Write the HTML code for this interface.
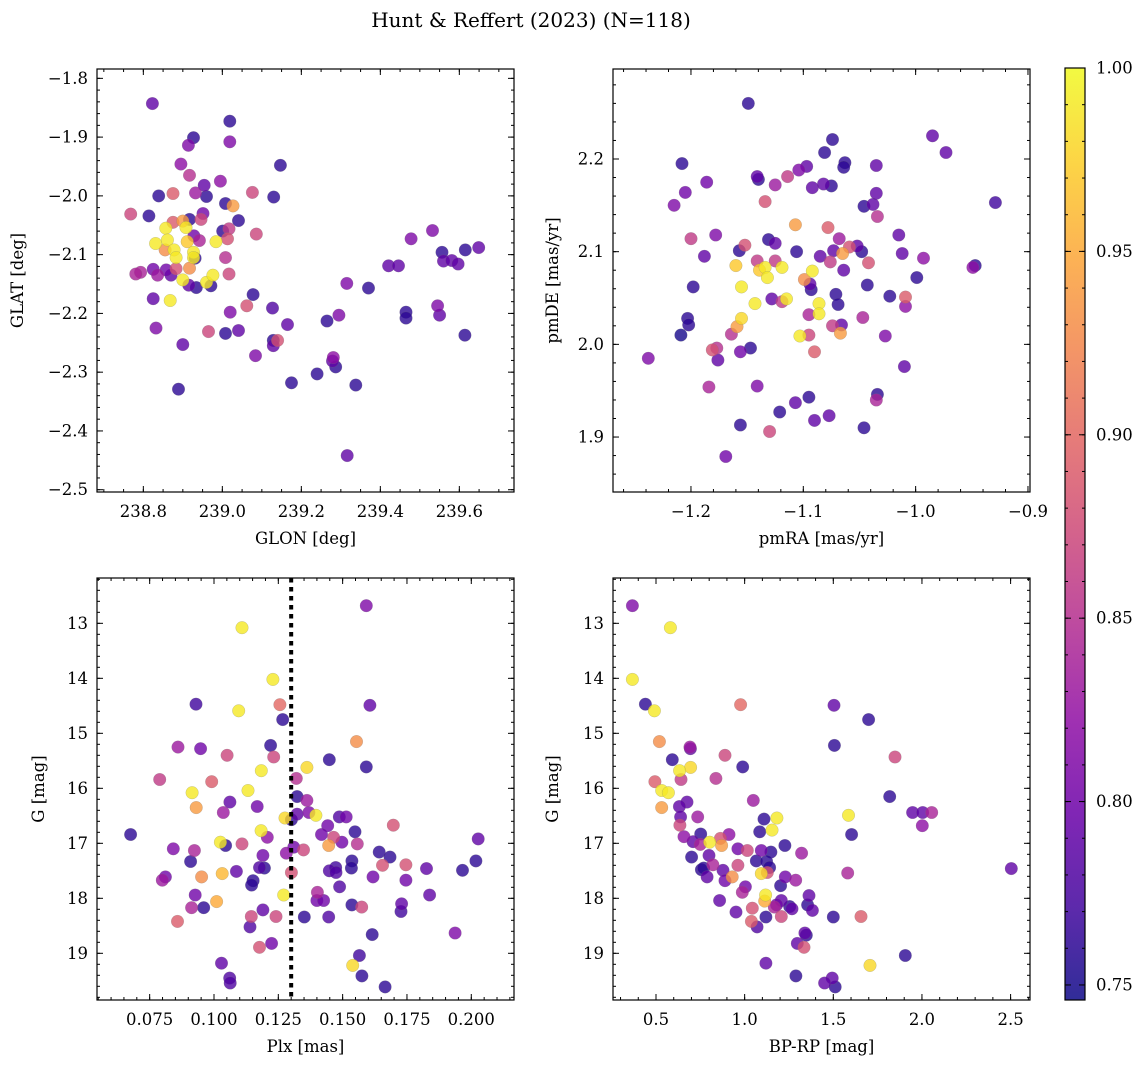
<!DOCTYPE html>
<html><head><meta charset="utf-8">
<style>
html,body{margin:0;padding:0;background:#fff;}
svg{display:block;font-family:"DejaVu Serif","Liberation Serif",serif;}
</style></head>
<body>
<svg id="fig" width="1148" height="1068" viewBox="0 0 1148 1068" xmlns="http://www.w3.org/2000/svg">
<text x="531" y="27" font-size="20" text-anchor="middle">Hunt &amp; Reffert (2023) (N=118)</text>
<defs>
<linearGradient id="plasmaGrad" x1="0" y1="1" x2="0" y2="0">
<stop offset="0" stop-color="#0d0887"/><stop offset="0.1" stop-color="#41049d"/><stop offset="0.2" stop-color="#6a00a8"/><stop offset="0.3" stop-color="#8f0da4"/><stop offset="0.4" stop-color="#b12a90"/><stop offset="0.5" stop-color="#cc4778"/><stop offset="0.6" stop-color="#e16462"/><stop offset="0.7" stop-color="#f2844b"/><stop offset="0.8" stop-color="#fca636"/><stop offset="0.9" stop-color="#fcce25"/><stop offset="1" stop-color="#f0f921"/>
</linearGradient>
</defs>
</svg>
<script>
// ---- Data: top-left (GLON vs GLAT) ----
const tlGlon=[238.823,239.019,238.927,238.914,239.019,238.895,238.917,239.147,238.954,238.995,238.839,238.875,238.932,238.960,239.076,239.130,239.008,239.027,238.768,238.814,238.951,238.946,238.917,238.875,238.900,239.041,238.857,238.908,239.001,239.017,239.013,239.086,238.831,238.861,238.928,238.942,238.911,238.984,238.855,238.878,238.927,238.883,238.927,238.931,239.008,238.825,238.793,238.781,238.836,238.858,238.870,238.883,238.917,239.017,238.900,238.915,238.934,238.960,238.976,238.971,238.825,238.868,239.078,239.062,239.127,239.020,238.832,238.965,239.008,239.041,239.165,238.900,239.129,239.129,239.140,239.084,238.889,239.175,239.240,239.281,239.279,239.287,239.338,239.265,239.295,239.315,239.370,239.316,239.421,239.446,239.478,239.465,239.465,239.532,239.556,239.560,239.581,239.597,239.615,239.649,239.545,239.550,239.614];
const tlGlat=[-1.843,-1.873,-1.901,-1.914,-1.908,-1.946,-1.965,-1.948,-1.982,-1.975,-2.000,-1.996,-1.995,-2.001,-1.994,-2.002,-2.013,-2.017,-2.031,-2.034,-2.030,-2.040,-2.040,-2.045,-2.043,-2.042,-2.055,-2.054,-2.060,-2.056,-2.073,-2.065,-2.081,-2.075,-2.068,-2.076,-2.078,-2.078,-2.092,-2.092,-2.096,-2.105,-2.105,-2.106,-2.105,-2.125,-2.130,-2.133,-2.135,-2.126,-2.135,-2.124,-2.123,-2.133,-2.143,-2.152,-2.156,-2.147,-2.135,-2.153,-2.175,-2.178,-2.168,-2.187,-2.191,-2.198,-2.225,-2.231,-2.234,-2.229,-2.219,-2.253,-2.246,-2.255,-2.246,-2.272,-2.329,-2.318,-2.303,-2.275,-2.281,-2.291,-2.322,-2.213,-2.203,-2.149,-2.157,-2.442,-2.119,-2.119,-2.073,-2.198,-2.208,-2.059,-2.096,-2.111,-2.110,-2.116,-2.092,-2.088,-2.187,-2.203,-2.237];
const tlProb=[.79,.76,.76,.81,.81,.82,.85,.76,.79,.82,.76,.89,.83,.76,.87,.76,.76,.94,.87,.76,.80,.87,.76,.89,.94,.76,.99,.99,.76,.86,.88,.87,.99,.99,.80,.84,.97,.99,.93,.99,.99,.99,.99,.76,.85,.80,.84,.84,.83,.80,.79,.88,.93,.87,.99,.79,.76,.99,.99,.76,.79,.99,.76,.88,.78,.81,.81,.87,.76,.79,.79,.79,.76,.79,.88,.81,.76,.76,.76,.82,.79,.76,.76,.76,.81,.81,.76,.79,.79,.79,.81,.76,.76,.81,.76,.79,.79,.79,.76,.79,.81,.79,.76];
const tlXTicks=[238.8,239.0,239.2,239.4,239.6];
const tlXLabels=["238.8","239.0","239.2","239.4","239.6"];
const tlYTicks=[-1.8,-1.9,-2.0,-2.1,-2.2,-2.3,-2.4,-2.5];
const tlYLabels=["−1.8","−1.9","−2.0","−2.1","−2.2","−2.3","−2.4","−2.5"];

// ---- Data: top-right (pmRA vs pmDE) ----
const trPmra=[-1.149,-0.985,-0.973,-0.929,-1.208,-1.205,-1.215,-1.186,-1.074,-1.081,-1.063,-1.064,-1.141,-1.140,-1.125,-1.114,-1.104,-1.097,-1.092,-1.082,-1.075,-1.035,-1.035,-1.038,-1.046,-1.034,-1.134,-1.107,-1.078,-1.200,-1.178,-1.188,-1.198,-1.203,-1.202,-1.209,-1.157,-1.152,-1.131,-1.125,-1.141,-1.125,-1.106,-1.085,-1.076,-1.073,-1.068,-1.059,-1.052,-1.048,-1.065,-1.042,-1.064,-1.015,-1.012,-0.993,-0.999,-0.947,-0.949,-1.160,-1.155,-1.139,-1.134,-1.132,-1.119,-1.092,-1.099,-1.094,-1.093,-1.128,-1.119,-1.115,-1.143,-1.155,-1.159,-1.164,-1.086,-1.086,-1.095,-1.071,-1.069,-1.043,-1.023,-1.009,-1.009,-1.047,-1.074,-1.066,-1.067,-1.095,-1.103,-1.027,-1.090,-1.181,-1.177,-1.156,-1.147,-1.176,-1.238,-1.010,-1.184,-1.141,-1.107,-1.095,-1.121,-1.090,-1.077,-1.034,-1.035,-1.046,-1.156,-1.130,-1.169];
const trPmde=[2.260,2.225,2.207,2.153,2.195,2.164,2.150,2.175,2.221,2.207,2.196,2.191,2.181,2.178,2.172,2.181,2.188,2.192,2.169,2.173,2.171,2.193,2.163,2.151,2.149,2.138,2.154,2.129,2.126,2.114,2.118,2.095,2.062,2.028,2.021,2.010,2.101,2.107,2.113,2.109,2.090,2.090,2.100,2.095,2.089,2.101,2.114,2.105,2.106,2.100,2.098,2.088,2.080,2.118,2.098,2.093,2.072,2.085,2.083,2.085,2.062,2.080,2.083,2.072,2.083,2.079,2.070,2.065,2.059,2.049,2.046,2.049,2.044,2.028,2.019,2.011,2.044,2.033,2.032,2.054,2.043,2.064,2.052,2.051,2.041,2.029,2.020,2.021,2.012,2.010,2.009,2.009,1.992,1.994,1.996,1.992,1.996,1.983,1.985,1.976,1.954,1.955,1.937,1.943,1.927,1.918,1.923,1.946,1.940,1.910,1.913,1.906,1.879];
const trProb=[.76,.79,.79,.77,.76,.80,.81,.80,.76,.76,.76,.76,.79,.76,.83,.86,.81,.79,.79,.79,.76,.79,.79,.79,.76,.85,.88,.94,.89,.86,.81,.79,.76,.76,.76,.75,.76,.88,.76,.79,.86,.86,.76,.79,.86,.79,.83,.88,.79,.76,.94,.88,.79,.79,.79,.82,.76,.76,.82,.97,.99,.97,.99,.99,.99,.99,.93,.79,.76,.79,.86,.99,.99,.98,.94,.85,.99,.99,.84,.76,.76,.76,.76,.89,.82,.84,.86,.79,.94,.87,.99,.81,.89,.88,.85,.80,.76,.79,.81,.79,.84,.81,.79,.76,.76,.79,.79,.76,.84,.76,.76,.87,.80];
const trXTicks=[-1.2,-1.1,-1.0,-0.9];
const trXLabels=["−1.2","−1.1","−1.0","−0.9"];
const trYTicks=[2.2,2.1,2.0,1.9];
const trYLabels=["2.2","2.1","2.0","1.9"];

// ---- Data: bottom-left (Plx vs G) ----
const blPlx=[0.1592,0.1109,0.1229,0.0930,0.1096,0.1256,0.1267,0.1606,0.1554,0.0860,0.0948,0.1220,0.1051,0.1232,0.1448,0.1592,0.1361,0.1184,0.0789,0.0991,0.1320,0.0915,0.1132,0.1323,0.1361,0.1062,0.0931,0.1168,0.1036,0.1323,0.1369,0.1396,0.1276,0.1301,0.1487,0.1514,0.1442,0.1697,0.0676,0.1183,0.1207,0.1418,0.1465,0.1548,0.1497,0.1557,0.1446,0.2027,0.0842,0.0924,0.1025,0.1045,0.1109,0.1190,0.1281,0.1310,0.1348,0.1642,0.1684,0.2018,0.0909,0.1536,0.1473,0.1534,0.1448,0.1474,0.1177,0.1196,0.1087,0.1655,0.1746,0.1826,0.1966,0.0811,0.0799,0.0952,0.1032,0.1301,0.1618,0.1746,0.1152,0.1146,0.1488,0.0927,0.1271,0.1402,0.1400,0.1426,0.1838,0.1010,0.0913,0.0960,0.1190,0.1536,0.1574,0.1729,0.1727,0.1351,0.1446,0.1145,0.1241,0.0858,0.1140,0.1615,0.1937,0.1177,0.1224,0.1565,0.1539,0.1029,0.1061,0.1063,0.1575,0.1665];
const blG=[12.68,13.08,14.02,14.47,14.59,14.48,14.75,14.49,15.15,15.25,15.28,15.22,15.40,15.43,15.48,15.61,15.62,15.68,15.84,15.88,15.82,16.08,16.04,16.15,16.22,16.25,16.35,16.33,16.44,16.47,16.44,16.49,16.54,16.57,16.52,16.52,16.68,16.67,16.84,16.77,16.89,16.84,16.89,16.79,16.98,17.01,17.04,16.92,17.10,17.13,16.98,17.04,17.01,17.22,17.18,17.07,17.12,17.16,17.25,17.32,17.33,17.32,17.44,17.45,17.50,17.53,17.44,17.45,17.51,17.40,17.39,17.46,17.49,17.61,17.67,17.61,17.55,17.53,17.61,17.67,17.68,17.76,17.79,17.94,17.94,17.89,18.04,18.04,17.94,18.06,18.17,18.17,18.21,18.12,18.16,18.10,18.24,18.34,18.34,18.33,18.33,18.42,18.52,18.66,18.63,18.89,18.82,19.04,19.22,19.18,19.45,19.54,19.41,19.61];
const blProb=[.81,.99,.99,.77,.99,.90,.76,.79,.93,.83,.80,.76,.87,.87,.76,.76,.98,.99,.86,.89,.85,.99,.99,.76,.83,.79,.94,.80,.83,.79,.81,.99,.98,.76,.78,.80,.80,.88,.76,.99,.82,.80,.87,.76,.80,.85,.94,.79,.81,.84,.99,.76,.87,.80,.82,.80,.87,.76,.76,.76,.76,.76,.77,.76,.78,.78,.78,.76,.79,.88,.88,.79,.76,.80,.83,.93,.96,.88,.80,.80,.76,.76,.78,.80,.99,.84,.80,.80,.79,.95,.84,.76,.79,.76,.87,.79,.77,.76,.78,.87,.87,.89,.78,.76,.81,.88,.80,.77,.98,.79,.78,.78,.76,.76];
const blXTicks=[0.075,0.100,0.125,0.150,0.175,0.200];
const blXLabels=["0.075","0.100","0.125","0.150","0.175","0.200"];
const gTicks=[13,14,15,16,17,18,19];
const gLabels=["13","14","15","16","17","18","19"];
const plxCut=[0.13];

// ---- Data: bottom-right (BP-RP vs G) ----
const brBpRp=[0.367,0.581,0.367,0.440,0.491,0.977,1.504,1.699,0.519,0.692,0.694,1.506,0.889,1.848,0.592,0.989,0.695,0.633,0.641,0.494,0.838,0.532,0.570,1.818,1.049,0.675,0.532,0.632,0.735,0.639,1.947,2.004,2.055,1.586,1.182,1.109,2.002,0.635,1.154,1.085,1.603,0.752,0.912,0.658,0.863,0.709,0.803,0.870,1.227,0.750,0.962,1.015,1.094,1.148,1.321,0.701,0.799,1.066,1.124,1.141,0.962,0.821,0.756,0.769,0.878,1.094,1.128,1.581,2.504,0.788,0.930,0.889,1.229,1.288,1.004,0.987,1.203,1.118,1.113,1.363,0.859,1.207,1.180,1.254,1.267,1.355,1.382,1.167,1.043,0.951,1.120,1.207,1.500,1.656,1.038,1.070,1.340,1.348,1.297,1.335,1.906,1.707,1.120,1.289,1.494,1.451,1.511];
const brG=[12.68,13.08,14.02,14.47,14.59,14.48,14.49,14.75,15.15,15.25,15.28,15.22,15.40,15.43,15.48,15.61,15.62,15.68,15.84,15.88,15.82,16.04,16.08,16.15,16.22,16.25,16.35,16.33,16.52,16.52,16.44,16.44,16.44,16.49,16.54,16.56,16.68,16.67,16.76,16.79,16.84,16.83,16.84,16.88,16.91,16.97,16.98,17.04,17.04,17.02,17.10,17.13,17.13,17.16,17.18,17.25,17.22,17.32,17.33,17.44,17.40,17.39,17.48,17.45,17.49,17.55,17.53,17.54,17.46,17.61,17.61,17.68,17.61,17.67,17.79,17.89,17.77,17.94,18.05,17.95,18.04,18.04,18.12,18.15,18.19,18.12,18.22,18.16,18.18,18.25,18.34,18.33,18.34,18.33,18.42,18.52,18.63,18.67,18.82,18.89,19.04,19.22,19.18,19.41,19.45,19.54,19.61];
const brProb=[.81,.99,.99,.76,.99,.90,.79,.76,.93,.83,.79,.76,.87,.87,.76,.76,.98,.99,.86,.89,.85,.99,.99,.76,.83,.79,.94,.79,.83,.79,.79,.79,.84,.99,.99,.76,.82,.87,.99,.76,.76,.76,.82,.82,.88,.79,.99,.94,.76,.84,.80,.87,.80,.76,.83,.76,.79,.76,.76,.76,.87,.84,.76,.76,.79,.98,.88,.84,.79,.79,.93,.80,.80,.83,.80,.84,.76,.99,.95,.79,.79,.79,.80,.76,.79,.76,.79,.84,.88,.79,.76,.87,.76,.89,.89,.78,.79,.76,.79,.88,.76,.98,.79,.76,.79,.79,.76];
const brXTicks=[0.5,1.0,1.5,2.0,2.5];
const brXLabels=["0.5","1.0","1.5","2.0","2.5"];

// ---- Colorbar ----
const cbTicks=[1.00,0.95,0.90,0.85,0.80,0.75];
const cbLabels=["1.00","0.95","0.90","0.85","0.80","0.75"];
const cbRange=[0.7459,1.0];

const NS="http://www.w3.org/2000/svg";
const svg=document.getElementById('fig');
const FS=16.5;
function mk(tag,attrs,parent){const e=document.createElementNS(NS,tag);for(const k in attrs)e.setAttribute(k,attrs[k]);(parent||svg).appendChild(e);return e;}

const plasma=["#0d0887","#41049d","#6a00a8","#8f0da4","#b12a90","#cc4778","#e16462","#f2844b","#fca636","#fcce25","#f0f921"];
function hex(h){return [parseInt(h.substr(1,2),16),parseInt(h.substr(3,2),16),parseInt(h.substr(5,2),16)];}
function cmap(v){let t=(v-cbRange[0])/(cbRange[1]-cbRange[0]);t=Math.max(0,Math.min(1,t));const s=t*10;const i=Math.min(9,Math.floor(s));const f=s-i;const a=hex(plasma[i]),b=hex(plasma[i+1]);return "rgb("+a.map((c,k)=>Math.round(c+(b[k]-c)*f)).join(",")+")";}

function scale(d0,d1,r0,r1){return v=>r0+(v-d0)/(d1-d0)*(r1-r0);}

function panel(cfg){
  const g=mk('g',{});
  
  
  const sx=scale(cfg.xd[0],cfg.xd[1],cfg.x0,cfg.x1), sy=scale(cfg.yd[0],cfg.yd[1],cfg.y0,cfg.y1);
  const idx=cfg.xs.map((_,i)=>i).sort((a,b)=>cfg.cs[a]-cfg.cs[b]);
  const pg=mk('g',{},g);
  
  
  idx.forEach(i=>{
    const c=mk('circle',{cx:sx(cfg.xs[i]).toFixed(1),cy:sy(cfg.ys[i]).toFixed(1),r:6.3,fill:cmap(cfg.cs[i]),'fill-opacity':0.8,stroke:'#777','stroke-width':0.4,'stroke-opacity':0.5},pg);
    
    
  });
  if(cfg.vline){cfg.vline.forEach(v=>{const l=mk('line',{x1:sx(v),x2:sx(v),y1:cfg.y0,y2:cfg.y1,stroke:'#000','stroke-width':4,'stroke-dasharray':'4.5,4.5'},g);
    
    });}
  const fr=mk('rect',{x:cfg.x0,y:cfg.y0,width:cfg.x1-cfg.x0,height:cfg.y1-cfg.y0,fill:'none',stroke:'#000','stroke-width':1.2},g);
  
  
  const tk=mk('g',{stroke:'#000','stroke-width':1},g);
  let m=Math.ceil(Math.min(cfg.xd[0],cfg.xd[1])/cfg.xminor);
  for(;m*cfg.xminor<=Math.max(cfg.xd[0],cfg.xd[1]);m++){const x=sx(m*cfg.xminor);mk('line',{x1:x,x2:x,y1:cfg.y1,y2:cfg.y1-3},tk);mk('line',{x1:x,x2:x,y1:cfg.y0,y2:cfg.y0+3},tk);}
  m=Math.ceil(Math.min(cfg.yd[0],cfg.yd[1])/cfg.yminor);
  for(;m*cfg.yminor<=Math.max(cfg.yd[0],cfg.yd[1]);m++){const y=sy(m*cfg.yminor);mk('line',{x1:cfg.x0,x2:cfg.x0+3,y1:y,y2:y},tk);mk('line',{x1:cfg.x1,x2:cfg.x1-3,y1:y,y2:y},tk);}
  cfg.xt.forEach((v,i)=>{const x=sx(v);mk('line',{x1:x,x2:x,y1:cfg.y1,y2:cfg.y1-6},tk);mk('line',{x1:x,x2:x,y1:cfg.y0,y2:cfg.y0+6},tk);
    const t=mk('text',{x:x,y:cfg.y1+25,'font-size':FS,'text-anchor':'middle'},g);t.textContent=cfg.xl[i];
    
    });
  cfg.yt.forEach((v,i)=>{const y=sy(v);mk('line',{x1:cfg.x0,x2:cfg.x0+6,y1:y,y2:y},tk);mk('line',{x1:cfg.x1,x2:cfg.x1-6,y1:y,y2:y},tk);
    const t=mk('text',{x:cfg.x0-9,y:y+5.5,'font-size':FS,'text-anchor':'end'},g);t.textContent=cfg.yl[i];
    
    });
  const xt=mk('text',{x:(cfg.x0+cfg.x1)/2,y:cfg.y1+52,'font-size':FS,'text-anchor':'middle'},g);xt.textContent=cfg.xlabel;
  
  
  const yx=cfg.ylabx, yy=(cfg.y0+cfg.y1)/2;
  const yt=mk('text',{x:yx,y:yy,'font-size':FS,'text-anchor':'middle',transform:'rotate(-90 '+yx+' '+yy+')'},g);yt.textContent=cfg.ylabel;
  
  
}

panel({name:'glon-glat-panel',x0:97,x1:514,y0:69,y1:492,xd:[238.6827,239.7384],yd:[-1.7841,-2.5039],xs:tlGlon,ys:tlGlat,cs:tlProb,xt:tlXTicks,xl:tlXLabels,yt:tlYTicks,yl:tlYLabels,xminor:0.05,yminor:0.02,xlabel:'GLON [deg]',ylabel:'GLAT [deg]',ylabx:23});
panel({name:'proper-motion-panel',x0:613,x1:1030,y0:69,y1:492,xd:[-1.2694,-0.8982],yd:[2.2971,1.8407],xs:trPmra,ys:trPmde,cs:trProb,xt:trXTicks,xl:trXLabels,yt:trYTicks,yl:trYLabels,xminor:0.02,yminor:0.02,xlabel:'pmRA [mas/yr]',ylabel:'pmDE [mas/yr]',ylabx:558});
panel({name:'parallax-mag-panel',x0:97,x1:514,y0:578,y1:1000,xd:[0.05453,0.2166],yd:[12.176,19.849],xs:blPlx,ys:blG,cs:blProb,xt:blXTicks,xl:blXLabels,yt:gTicks,yl:gLabels,xminor:0.005,yminor:0.2,xlabel:'Plx [mas]',ylabel:'G [mag]',ylabx:44,vline:plxCut});
panel({name:'cmd-panel',x0:613,x1:1030,y0:578,y1:1000,xd:[0.2575,2.6094],yd:[12.176,19.849],xs:brBpRp,ys:brG,cs:brProb,xt:brXTicks,xl:brXLabels,yt:gTicks,yl:gLabels,xminor:0.1,yminor:0.2,xlabel:'BP-RP [mag]',ylabel:'G [mag]',ylabx:558});

const cb=mk('g',{});


const cy0=68,cy1=1000,cx0=1065,cx1=1085;
const csy=scale(cbRange[0],cbRange[1],cy1,cy0);
mk('rect',{x:cx0,y:cy0,width:cx1-cx0,height:cy1-cy0,fill:'url(#plasmaGrad)','fill-opacity':0.85},cb);
mk('rect',{x:cx0,y:cy0,width:cx1-cx0,height:cy1-cy0,fill:'none',stroke:'#000','stroke-width':1.2},cb);
for(let k=75;k<=100;k++){const v=k/100;if(v<cbRange[0])continue;const y=csy(v);mk('line',{x1:cx1,x2:cx1-3,y1:y,y2:y,stroke:'#000'},cb);mk('line',{x1:cx0,x2:cx0+3,y1:y,y2:y,stroke:'#000'},cb);}
cbTicks.forEach((v,i)=>{const y=csy(v);mk('line',{x1:cx1,x2:cx1-6,y1:y,y2:y,stroke:'#000'},cb);mk('line',{x1:cx0,x2:cx0+6,y1:y,y2:y,stroke:'#000'},cb);
  const t=mk('text',{x:cx1+11,y:y+5.5,'font-size':FS},cb);t.textContent=cbLabels[i];
  
  });
</script>
</body></html>
